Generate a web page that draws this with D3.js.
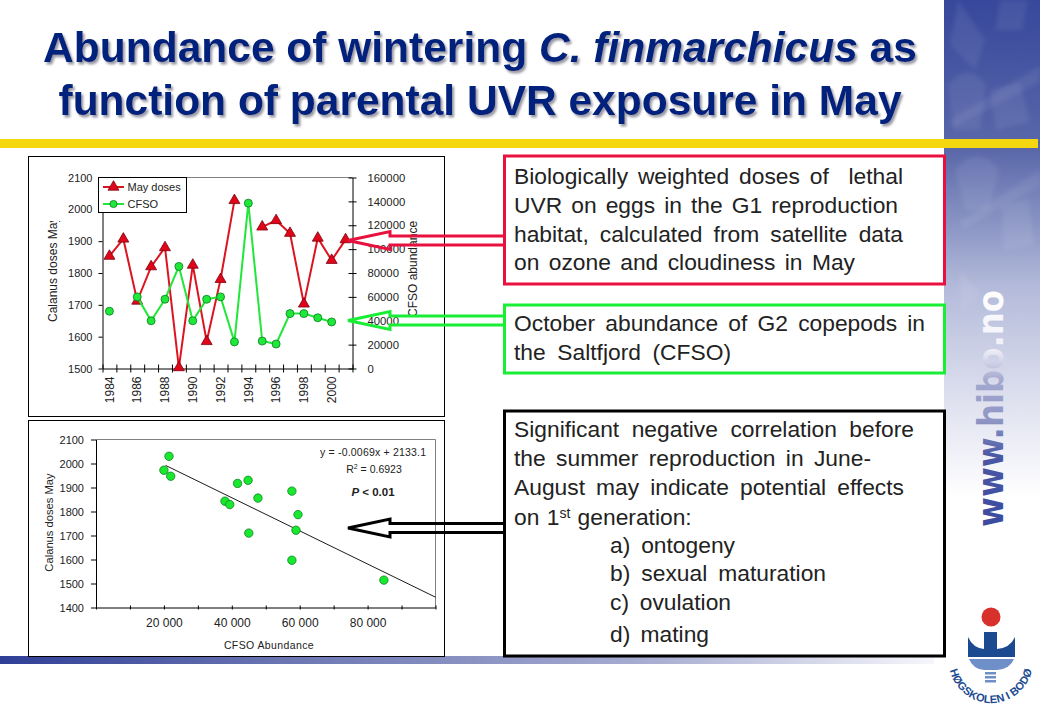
<!DOCTYPE html>
<html>
<head>
<meta charset="utf-8">
<script src="https://cdn.jsdelivr.net/npm/d3@7"></script>
<style>
  body { margin: 0; background: #fff; }
  svg { display: block; font-family: "Liberation Sans", Arial, sans-serif; }
  .axis text { fill: #222; font-family: "Liberation Sans", Arial, sans-serif; }
  .axis path, .axis line { stroke: #000; stroke-width: 1; }
</style>
</head>
<body>
<div id="slide"></div>
<script>
// top chart
let years = [1984,1985,1986,1987,1988,1989,1990,1991,1992,1993,1994,1995,1996,1997,1998,1999,2000,2001];
let mayDoses = [1853,1907,1712,1820,1880,1503,1825,1585,1780,2028,null,1945,1965,1925,1703,1910,1840,1905];
let cfso = [48000,null,60000,40000,58000,85500,40000,58000,60000,22300,138500,23000,20500,46000,46000,42500,39000,null];
let yearLabels = [1984,1986,1988,1990,1992,1994,1996,1998,2000];
let doseTicks = [1500,1600,1700,1800,1900,2000,2100];
let cfsoTicks = [0,20000,40000,60000,80000,100000,120000,140000,160000];

// bottom chart
let scatterCfso = [20000,21500,22000,38000,39400,41700,44800,45000,47700,57700,57700,58900,59500,84800];
let scatterDose = [1972,2030,1947,1843,1829,1917,1930,1710,1856,1885,1597,1722,1787,1514];
let trendCfso = [20500,100000];
let trendDose = [1992,1443];
let scatterYTicks = [1400,1500,1600,1700,1800,1900,2000,2100];
let scatterXTicks = [0,10000,20000,30000,40000,50000,60000,70000,80000,90000,100000];
let scatterXLabels = [20000,40000,60000,80000];

let navy = "#00207c", red = "#e8103c", green = "#18ee34";
let intFormat = d3.format("d");

let svg = d3.select("#slide").append("svg").attr("width",1040).attr("height",720);
let defs = svg.append("defs");

function addGradient(id, stops){
    let g = defs.append("linearGradient").attr("id",id);
    stops.forEach(function(d){
        g.append("stop").attr("offset",d[0]).attr("stop-color",d[1]);
    });
    return g;
}
addGradient("sideGrad",[[0,"#37479b"],[0.25,"#5a68aa"],[0.48,"#b4bbda"],[0.67,"#dfe1ef"],[0.83,"#ffffff"]])
    .attr("x1",0).attr("x2",0).attr("y1",0).attr("y2",1);
addGradient("bandGrad",[[0,"#2f3f96"],[0.3,"#6a75b2"],[0.7,"#a9aed2"],[1,"#f6f6fb"]]);
addGradient("hiboGrad",[[0,"#3a4a9e"],[0.3,"#4a58a4"],[0.45,"#8f96c4"],[0.62,"#a4a9cf"],[0.75,"#f0f0f8"],[1,"#ffffff"]]);

defs.append("clipPath").attr("id","labelClip").append("rect").attr("x",30).attr("y",221).attr("width",410).attr("height",110);
defs.append("filter").attr("id","soft").append("feGaussianBlur").attr("stdDeviation",2);
let shadow = defs.append("filter").attr("id","titleShadow").attr("x","-5%").attr("y","-10%").attr("width","110%").attr("height","125%");
shadow.append("feDropShadow").attr("dx",2).attr("dy",2.5).attr("stdDeviation",1.2)
    .attr("flood-color","#777788").attr("flood-opacity",0.75);

// side panel + bottom band
svg.append("rect").attr("x",944).attr("y",0).attr("width",96).attr("height",600).attr("fill","url(#sideGrad)");
svg.append("rect").attr("x",0).attr("y",656).attr("width",934).attr("height",8).attr("fill","url(#bandGrad)");

// faint logo shapes in the side panel
let faint = [
    "M958,0 L985,40 L975,70 L950,45 Z",
    "M1000,0 h28 l-6,30 h-26 Z",
    "M948,85 q20,-25 38,0 l-6,45 h-26 Z",
    "M1040,66 L950,120 l3,8 L1040,82 Z",
    "M990,90 l30,-8 l10,40 l-34,8 Z",
    "M955,170 q24,-28 44,0 l-10,40 h-24 Z",
    "M1040,170 L960,222 l3,7 L1040,186 Z",
    "M1002,205 l26,-6 l6,46 l-30,4 Z",
    "M960,270 l20,24 l-18,16 Z"
];
svg.append("g").attr("filter","url(#soft)").selectAll("path").data(faint).join("path")
    .attr("d",function(d){return d;})
    .attr("fill","#ffffff").attr("opacity",0.07);

svg.append("rect").attr("x",0).attr("y",139).attr("width",1038).attr("height",9).attr("fill","#f5d70f");

// title
let titleLines = [
    {y:62, parts:[["Abundance of wintering ","normal"],["C. finmarchicus","italic"],[" as","normal"]]},
    {y:115, parts:[["function of parental UVR exposure in May","normal"]]}
];
let titleGroup = svg.append("g").attr("filter","url(#titleShadow)");
titleLines.forEach(function(line){
    let t = titleGroup.append("text")
        .attr("x",480).attr("y",line.y)
        .attr("text-anchor","middle")
        .attr("font-size",42.5).attr("font-weight","bold")
        .attr("fill",navy)
        .style("white-space","pre");
    line.parts.forEach(function(p){
        t.append("tspan").attr("font-style",p[1]).text(p[0]);
    });
});

// chart frames
svg.append("rect").attr("x",28.5).attr("y",156.5).attr("width",416).attr("height",260).attr("fill","#fff").attr("stroke","#000");
svg.append("rect").attr("x",28.5).attr("y",420.5).attr("width",416).attr("height",236).attr("fill","#fff").attr("stroke","#000");

linechart();
scatter();
textboxes();
logo();

function linechart(){
    let left = 102.5, right = 352.5, top = 177.5, bottom = 368.5;

    let x = d3.scaleBand().domain(years).range([left,right]);
    let xEdge = d3.scaleLinear().domain([1984,2002]).range([left,right]);
    let yDose = d3.scaleLinear().domain([1500,2100]).range([bottom,top]);
    let yCfso = d3.scaleLinear().domain([0,160000]).range([bottom,top]);
    let cx = function(d){return x(d.year) + x.bandwidth()/2;};

    let doseRows = years.map(function(yr,i){return {year:yr, value:mayDoses[i]};});
    let cfsoRows = years.map(function(yr,i){return {year:yr, value:cfso[i]};});
    let hasValue = function(d){return d.value !== null;};

    svg.append("line").attr("x1",left).attr("x2",right).attr("y1",top).attr("y2",top).attr("stroke","#808080");

    svg.append("g").attr("class","axis").attr("transform","translate("+left+",0)")
        .call(d3.axisLeft(yDose).tickValues(doseTicks).tickSizeInner(4).tickSizeOuter(0).tickPadding(6).tickFormat(intFormat))
        .style("font-size","11px");

    let rightAxis = svg.append("g").attr("class","axis").attr("transform","translate("+right+",0)")
        .call(d3.axisRight(yCfso).tickValues(cfsoTicks).tickSizeOuter(0).tickPadding(9).tickFormat(intFormat))
        .style("font-size","11.3px");
    rightAxis.selectAll(".tick line").attr("x1",-4).attr("x2",4);

    // ticks sit between the categories, labels on them
    let edgeAxis = svg.append("g").attr("class","axis").attr("transform","translate(0,"+bottom+")")
        .call(d3.axisBottom(xEdge).tickValues(years.concat([2002])).tickSizeOuter(0).tickFormat(""));
    edgeAxis.selectAll(".tick line").attr("y1",-4).attr("y2",4);

    let labelAxis = svg.append("g").attr("class","axis").attr("transform","translate(0,"+bottom+")")
        .call(d3.axisBottom(x).tickValues(yearLabels).tickSize(0).tickFormat(intFormat))
        .style("font-size","12px");
    labelAxis.select(".domain").remove();
    labelAxis.selectAll("text")
        .attr("transform","rotate(-90)")
        .attr("x",-8).attr("y",0).attr("dy","0.35em")
        .style("text-anchor","end");

    // both axis titles are cut off in the original
    let clip = svg.append("g").attr("clip-path","url(#labelClip)");
    clip.append("text").attr("transform","translate(57,322) rotate(-90)")
        .attr("font-size",12).attr("fill","#222").text("Calanus doses May");
    clip.append("text").attr("transform","translate(417,317) rotate(-90)")
        .attr("font-size",12).attr("fill","#222").text("CFSO abundance");

    let doseLine = d3.line().defined(hasValue).x(cx).y(function(d){return yDose(d.value);});
    let cfsoLine = d3.line().defined(hasValue).x(cx).y(function(d){return yCfso(d.value);});
    let triangle = d3.symbol().type(d3.symbolTriangle).size(52);

    svg.append("path").datum(doseRows).attr("d",doseLine).attr("fill","none").attr("stroke","#dc1420").attr("stroke-width",2);
    svg.append("g").selectAll("path").data(doseRows.filter(hasValue)).join("path")
        .attr("d",triangle)
        .attr("transform",function(d){return "translate("+cx(d)+","+yDose(d.value)+")";})
        .attr("fill","#e0061a").attr("stroke","#7a0010").attr("stroke-width",0.8);

    svg.append("path").datum(cfsoRows).attr("d",cfsoLine).attr("fill","none").attr("stroke","#22e63a").attr("stroke-width",2);
    svg.append("g").selectAll("circle").data(cfsoRows.filter(hasValue)).join("circle")
        .attr("cx",cx)
        .attr("cy",function(d){return yCfso(d.value);})
        .attr("r",4).attr("fill","#1ee83a").attr("stroke","#0c7a20").attr("stroke-width",0.8);

    // legend
    let lg = svg.append("g");
    lg.append("rect").attr("x",98.5).attr("y",177.5).attr("width",88).attr("height",35).attr("fill","#fff").attr("stroke","#000");
    lg.append("line").attr("x1",103).attr("x2",124).attr("y1",187).attr("y2",187).attr("stroke","#dc1420").attr("stroke-width",2);
    lg.append("path").attr("d",triangle).attr("transform","translate(113.5,187)").attr("fill","#e0061a").attr("stroke","#7a0010").attr("stroke-width",0.8);
    lg.append("line").attr("x1",103).attr("x2",124).attr("y1",204).attr("y2",204).attr("stroke","#22e63a").attr("stroke-width",2);
    lg.append("circle").attr("cx",113.5).attr("cy",204).attr("r",3.6).attr("fill","#1ee83a").attr("stroke","#0c7a20").attr("stroke-width",0.8);
    lg.append("text").attr("x",127.5).attr("y",191).attr("font-size",11).attr("fill","#222").text("May doses");
    lg.append("text").attr("x",127.5).attr("y",208).attr("font-size",11).attr("fill","#222").text("CFSO");
}

function scatter(){
    let left = 96, right = 435.5, top = 439.5, bottom = 607.5;

    let x = d3.scaleLinear().domain([0,100000]).range([left,right]);
    let y = d3.scaleLinear().domain([1400,2100]).range([bottom,top]);

    svg.append("path").attr("d","M"+left+","+top+"H"+right+"V"+bottom).attr("fill","none").attr("stroke","#808080");

    svg.append("g").attr("class","axis").attr("transform","translate("+left+",0)")
        .call(d3.axisLeft(y).tickValues(scatterYTicks).tickSizeInner(5).tickSizeOuter(0).tickPadding(7).tickFormat(intFormat))
        .style("font-size","11px");

    let tickAxis = svg.append("g").attr("class","axis").attr("transform","translate(0,"+bottom+")")
        .call(d3.axisBottom(x).tickValues(scatterXTicks).tickSize(2).tickSizeOuter(0).tickFormat(""));
    tickAxis.selectAll(".tick line").attr("y1",-2).attr("y2",2);

    let labels = svg.append("g").attr("class","axis").attr("transform","translate(0,"+bottom+")")
        .call(d3.axisBottom(x).tickValues(scatterXLabels).tickSize(0).tickPadding(11)
            .tickFormat(function(d){return intFormat(d/1000)+" 000";}))
        .style("font-size","12px");
    labels.select(".domain").remove();

    svg.append("text").attr("transform","translate(53,522.5) rotate(-90)").attr("text-anchor","middle")
        .attr("font-size",11.2).attr("fill","#222").text("Calanus doses May");
    svg.append("text").attr("x",269).attr("y",649).attr("text-anchor","middle")
        .attr("font-size",10.5).attr("letter-spacing",0.4).attr("fill","#222").text("CFSO Abundance");

    let trend = d3.line().x(function(d){return x(d);}).y(function(d,i){return y(trendDose[i]);});
    svg.append("path").datum(trendCfso).attr("d",trend).attr("fill","none").attr("stroke","#000").attr("stroke-width",0.9);

    svg.append("g").selectAll("circle").data(scatterCfso).join("circle")
        .attr("cx",function(d){return x(d);})
        .attr("cy",function(d,i){return y(scatterDose[i]);})
        .attr("r",4.2).attr("fill","#18e82e").attr("stroke","#0c8020").attr("stroke-width",0.8);

    svg.append("text").attr("x",373).attr("y",456).attr("text-anchor","middle").attr("font-size",10.5)
        .attr("fill","#222").attr("textLength",106).text("y = -0.0069x + 2133.1");
    let r2 = svg.append("text").attr("x",374).attr("y",473).attr("text-anchor","middle").attr("font-size",10.5).attr("fill","#222");
    r2.append("tspan").text("R");
    r2.append("tspan").attr("dy",-4).attr("font-size",7).text("2");
    r2.append("tspan").attr("dy",4).text(" = 0.6923");
    let p = svg.append("text").attr("x",373).attr("y",496).attr("text-anchor","middle").attr("font-size",11.5)
        .attr("font-weight","bold").attr("fill","#222");
    p.append("tspan").attr("font-style","italic").text("P");
    p.append("tspan").text(" < 0.01");
}

function textboxes(){
    let boxes = [
        {y:156, h:128, color:red},
        {y:305, h:68, color:green},
        {y:411, h:245, color:"#000"}
    ];
    boxes.forEach(function(b){
        svg.append("rect").attr("x",504.5).attr("y",b.y).attr("width",440).attr("height",b.h)
            .attr("fill","#fff").attr("stroke",b.color).attr("stroke-width",3);
    });

    let lines = [
        ["Biologically weighted doses of  lethal",514,184,389],
        ["UVR on eggs in the G1 reproduction",514,213,384],
        ["habitat, calculated from satellite data",514,242,389],
        ["on ozone and cloudiness in May",514,270,341],
        ["October abundance of G2 copepods in",514,331,411],
        ["the Saltfjord (CFSO)",514,360,217],
        ["Significant negative correlation before",514,437,400],
        ["the summer reproduction in June-",514,466,357],
        ["August may indicate potential effects",514,495,390],
        ["a) ontogeny",610,553,125],
        ["b) sexual maturation",610,581,216],
        ["c) ovulation",610,610,121],
        ["d) mating",610,642,99]
    ];
    // stretch the word gaps, not the letters, to the width of each line
    svg.append("g").selectAll("text").data(lines).join("text")
        .attr("x",function(d){return d[1];})
        .attr("y",function(d){return d[2];})
        .attr("font-size",22.8).attr("fill","#222")
        .style("white-space","pre")
        .text(function(d){return d[0];})
        .each(function(d){
            let gaps = d[0].split(" ").length - 1;
            let extra = d[3] - this.getComputedTextLength();
            d3.select(this).attr("word-spacing",extra/gaps);
        });

    let gen = svg.append("text").attr("x",514).attr("y",525).attr("font-size",22.8).attr("fill","#222").attr("word-spacing",1);
    gen.append("tspan").text("on 1");
    gen.append("tspan").attr("dy",-7).attr("font-size",14).text("st");
    gen.append("tspan").attr("dy",7).text(" generation:");

    // hollow arrows from the boxes back to the charts
    [{tip:240.5,color:red},{tip:320.5,color:green},{tip:528,color:"#000"}].forEach(function(a){
        let t = a.tip;
        svg.append("path")
            .attr("d","M504,"+(t-4.5)+"H390V"+(t-9)+"L348,"+t+"L390,"+(t+9)+"V"+(t+4.5)+"H504")
            .attr("fill","none").attr("stroke",a.color).attr("stroke-width",3);
    });
}

function logo(){
    svg.append("text").attr("transform","translate(1003,527) rotate(-90)")
        .attr("font-family","'DejaVu Sans'").attr("font-weight","bold").attr("font-size",36)
        .attr("textLength",237).attr("lengthAdjust","spacingAndGlyphs")
        .attr("fill","url(#hiboGrad)").text("www.hibo.no");

    let blue = "#1b4a90";
    svg.append("circle").attr("cx",991).attr("cy",617).attr("r",9.5).attr("fill","#d8302a");
    svg.append("path").attr("d","M968,637 L968,657 L1015,657 L1015,637 Q1010,648 997,649 L997,632 L984,632 L984,649 Q973,648 968,637 Z").attr("fill",blue);
    svg.append("path").attr("d","M969,659 H1014 Q1010,669 997,670 H984 Q973,669 969,659 Z").attr("fill","#6f8fc8");
    [672,676,680].forEach(function(s){
        svg.append("rect").attr("x",985).attr("y",s).attr("width",11).attr("height",2.5).attr("fill","#6f8fc8");
    });
    defs.append("path").attr("id","logoArc").attr("d","M949,661 A42,42 0 0 0 1033,661");
    svg.append("text").attr("font-size",11).attr("font-weight","bold").attr("fill",blue)
        .append("textPath").attr("href","#logoArc").attr("startOffset","50%").attr("text-anchor","middle")
        .text("HØGSKOLEN I BODØ");
}
</script>
</body>
</html>
